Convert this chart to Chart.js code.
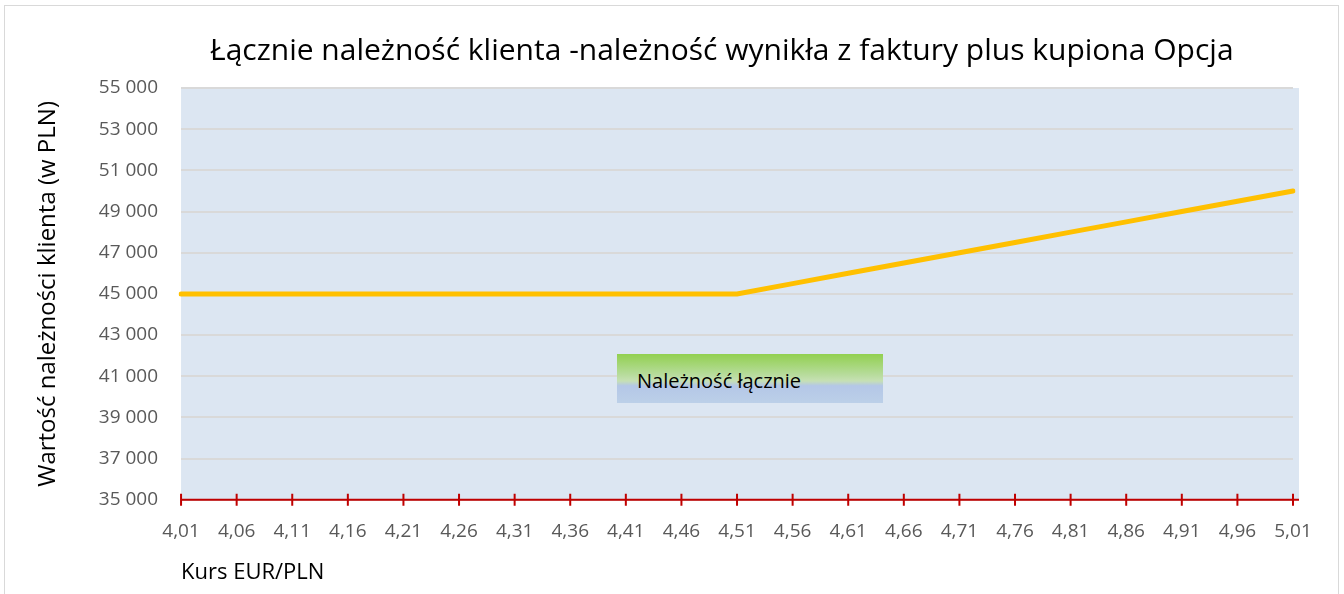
<!DOCTYPE html>
<html>
<head>
<meta charset="utf-8">
<script src="https://cdn.jsdelivr.net/npm/chart.js@4"></script>
<style>
  body { margin: 0; background: #fff; }
  #wrap { position: relative; width: 1344px; height: 594px; overflow: hidden; }
  #myChart { position: absolute; left: 0; top: 0; }
  #frame { position: absolute; left: 4px; top: 5px; width: 1333px; height: 600px; border: 1px solid #d9d9d9; }
  #title {
    position: absolute; left: 210px; width: 1000px; top: 29px; text-align: center; white-space: nowrap;
    font-family: "Open Sans", sans-serif; font-size: 30px; line-height: 40px; color: #000;
  }
  #legendBox {
    position: absolute; left: 617px; top: 354px; width: 266px; height: 49px;
    background: linear-gradient(to bottom, #92d050 0%, #b5db98 40%, #c6e0b4 55%, #b4c7e7 65%, #bcd0e8 100%);
    font-family: "Open Sans", sans-serif; font-size: 20px; color: #000;
    box-sizing: border-box; padding-left: 20px; line-height: 54px;
  }
</style>
</head>
<body>
<div id="wrap">
  <div id="frame"></div>
  <canvas id="myChart" width="1344" height="594"></canvas>
  <div id="title">Łącznie należność klienta -należność wynikła z faktury plus kupiona Opcja</div>
  <div id="legendBox">Należność łącznie</div>
</div>
<script>
// kurs EUR/PLN co 0,05
const rates = ['4,01', '4,06', '4,11', '4,16', '4,21', '4,26', '4,31', '4,36', '4,41', '4,46', '4,51',
               '4,56', '4,61', '4,66', '4,71', '4,76', '4,81', '4,86', '4,91', '4,96', '5,01'];
// należność łącznie (PLN)
const totalValues = [45000, 45000, 45000, 45000, 45000, 45000, 45000, 45000, 45000, 45000, 45000,
                     45500, 46000, 46500, 47000, 47500, 48000, 48500, 49000, 49500, 50000];
const yMin = 35000, yMax = 55000, yStep = 2000;

const fmt = v => String(v).replace(/\B(?=(\d{3})+(?!\d))/g, ' ');

const bgPlugin = {
    id: 'bg',
    beforeDraw(chart) {
        const a = chart.chartArea, c = chart.ctx;
        c.save();
        c.fillStyle = '#dce6f2';
        c.fillRect(a.left, a.top, a.right - a.left + 6, a.bottom - a.top);
        c.restore();
    },
    afterDatasetsDraw(chart) {
        // czerwona oś X z kreskami przecinającymi
        const x = chart.scales.x, a = chart.chartArea, c = chart.ctx;
        c.save();
        c.strokeStyle = '#c00000';
        c.lineWidth = 2;
        c.beginPath();
        c.moveTo(a.left, a.bottom);
        c.lineTo(a.right + 6, a.bottom);
        x.ticks.forEach((t, i) => {
            const px = x.getPixelForTick(i);
            c.moveTo(px, a.bottom - 6);
            c.lineTo(px, a.bottom + 6);
        });
        c.stroke();
        c.restore();
    }
};

const ctx = document.getElementById('myChart').getContext('2d');
new Chart(ctx, {
    type: 'line',
    data: {
        labels: rates,
        datasets: [{
            label: 'Należność łącznie',
            data: totalValues,
            borderColor: '#ffc000',
            borderWidth: 5,
            pointRadius: 0,
            tension: 0,
            borderCapStyle: 'round'
        }]
    },
    options: {
        responsive: false,
        animation: false,
        layout: { padding: { left: 30, right: 51, top: 88, bottom: 8 } },
        plugins: {
            legend: { display: false },
            tooltip: { enabled: false },
            title: { display: false }
        },
        scales: {
            x: {
                offset: false,
                grid: { display: false },
                border: { display: false },
                ticks: { color: '#595959', font: { family: 'Open Sans', size: 19 }, maxRotation: 0, autoSkip: false, padding: 12 },
                title: {
                    display: true, align: 'start', text: 'Kurs EUR/PLN', color: '#000',
                    font: { family: 'Open Sans', size: 22 }, padding: { top: 5, bottom: 0 }
                }
            },
            y: {
                min: yMin, max: yMax,
                grid: { color: '#d9d9d9', lineWidth: 2, drawTicks: false },
                border: { display: false },
                ticks: { stepSize: yStep, color: '#595959', font: { family: 'Open Sans', size: 19 }, padding: 23, callback: v => fmt(v) },
                title: {
                    display: true, text: 'Wartość należności klienta (w PLN)', color: '#000',
                    font: { family: 'Open Sans', size: 24 }, padding: { top: 4, bottom: 13 }
                }
            }
        }
    },
    plugins: [bgPlugin]
});
</script>
</body>
</html>
